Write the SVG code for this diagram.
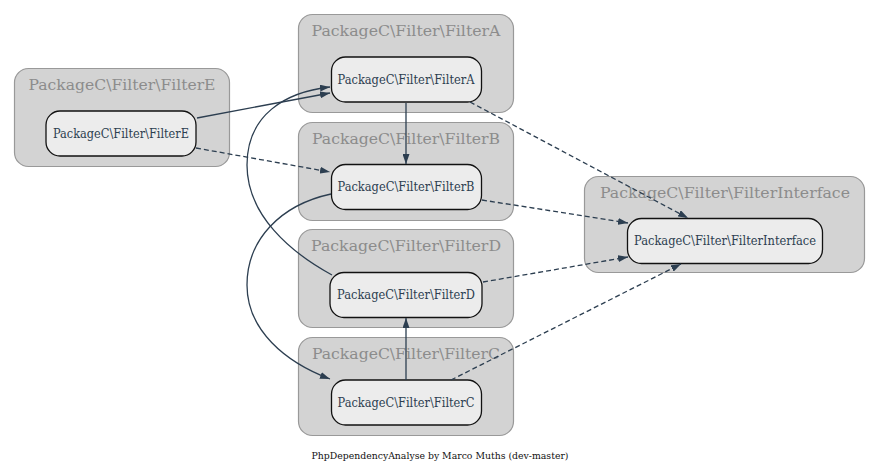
<svg xmlns="http://www.w3.org/2000/svg" width="880" height="473" viewBox="0 0 880 473">
  <style>
    .cluster rect { fill: #d3d3d3; stroke: #999999; stroke-width: 1.2; }
    .cluster text { font-family: "DejaVu Serif", "Liberation Serif", serif; font-size: 15.5px; fill: #8c8c8c; text-anchor: middle; }
    .node rect { fill: #ececec; stroke: #111111; stroke-width: 1.3; }
    .node text { font-family: "DejaVu Serif", "Liberation Serif", serif; font-size: 12.3px; fill: #2c3e50; text-anchor: middle; }
    .edge { fill: none; stroke: #2c3e50; stroke-width: 1.3; }
    .dashed { stroke-dasharray: 5 3; }
    .footer { font-family: "DejaVu Serif", "Liberation Serif", serif; font-size: 10px; fill: #111111; text-anchor: middle; }
  </style>
  <defs>
    <marker id="arrow" markerUnits="userSpaceOnUse" markerWidth="10" markerHeight="7" refX="10" refY="3.5" orient="auto">
      <path d="M0,0 L10,3.5 L0,7 z" fill="#2c3e50" stroke="none"/>
    </marker>
  </defs>

  <rect width="880" height="473" fill="#ffffff"/>

  <!-- package clusters -->
  <g id="cluster-filterE" class="cluster">
    <rect x="14.5" y="68.5" width="215" height="98" rx="14"/>
    <text x="122" y="90" textLength="187" lengthAdjust="spacingAndGlyphs">PackageC\Filter\FilterE</text>
  </g>
  <g id="cluster-filterA" class="cluster">
    <rect x="298.5" y="14.5" width="215" height="98" rx="14"/>
    <text x="406" y="36" textLength="189" lengthAdjust="spacingAndGlyphs">PackageC\Filter\FilterA</text>
  </g>
  <g id="cluster-filterB" class="cluster">
    <rect x="298.5" y="122.5" width="215" height="98" rx="14"/>
    <text x="406" y="144" textLength="188" lengthAdjust="spacingAndGlyphs">PackageC\Filter\FilterB</text>
  </g>
  <g id="cluster-filterD" class="cluster">
    <rect x="298.5" y="229.5" width="215" height="98" rx="14"/>
    <text x="406" y="251" textLength="190" lengthAdjust="spacingAndGlyphs">PackageC\Filter\FilterD</text>
  </g>
  <g id="cluster-filterC" class="cluster">
    <rect x="298.5" y="337.5" width="215" height="98" rx="14"/>
    <text x="406" y="359" textLength="188" lengthAdjust="spacingAndGlyphs">PackageC\Filter\FilterC</text>
  </g>
  <g id="cluster-filterInterface" class="cluster">
    <rect x="584.5" y="176.5" width="280" height="96" rx="14"/>
    <text x="725" y="198" textLength="250" lengthAdjust="spacingAndGlyphs">PackageC\Filter\FilterInterface</text>
  </g>

  <!-- class nodes -->
  <g id="node-filterE" class="node">
    <rect x="46" y="111" width="150" height="45" rx="14"/>
    <text x="121" y="137.5" textLength="136" lengthAdjust="spacingAndGlyphs">PackageC\Filter\FilterE</text>
  </g>
  <g id="node-filterA" class="node">
    <rect x="331.5" y="57" width="150" height="45" rx="14"/>
    <text x="406" y="83.5" textLength="137" lengthAdjust="spacingAndGlyphs">PackageC\Filter\FilterA</text>
  </g>
  <g id="node-filterB" class="node">
    <rect x="331.5" y="164.5" width="150" height="45" rx="14"/>
    <text x="406" y="191" textLength="137" lengthAdjust="spacingAndGlyphs">PackageC\Filter\FilterB</text>
  </g>
  <g id="node-filterD" class="node">
    <rect x="330" y="272.5" width="152" height="45" rx="14"/>
    <text x="406" y="299" textLength="138" lengthAdjust="spacingAndGlyphs">PackageC\Filter\FilterD</text>
  </g>
  <g id="node-filterC" class="node">
    <rect x="331.5" y="380" width="150" height="45" rx="14"/>
    <text x="406" y="406.5" textLength="137" lengthAdjust="spacingAndGlyphs">PackageC\Filter\FilterC</text>
  </g>
  <g id="node-filterInterface" class="node">
    <rect x="627.5" y="218.5" width="195" height="45" rx="14"/>
    <text x="725" y="245" textLength="182" lengthAdjust="spacingAndGlyphs">PackageC\Filter\FilterInterface</text>
  </g>

  <!-- dependencies -->
  <g id="edges">
    <path class="edge" d="M197,118 L330,93" marker-end="url(#arrow)"/>
    <path class="edge dashed" d="M196,148 L330,172" marker-end="url(#arrow)"/>
    <path class="edge" d="M406,103 L406,164" marker-end="url(#arrow)"/>
    <path class="edge dashed" d="M470,102 L688,218" marker-end="url(#arrow)"/>
    <path class="edge dashed" d="M482,200 L628,223" marker-end="url(#arrow)"/>
    <path class="edge" d="M332,275 C290,252 247,215 247,165 C247,115 285,92 330,87" marker-end="url(#arrow)"/>
    <path class="edge" d="M331,194 C280,205 247,240 247,285 C247,330 285,362 330,379" marker-end="url(#arrow)"/>
    <path class="edge" d="M406,380 L406,318" marker-end="url(#arrow)"/>
    <path class="edge dashed" d="M483,282 L628,257" marker-end="url(#arrow)"/>
    <path class="edge dashed" d="M451,380 L681,264" marker-end="url(#arrow)"/>
  </g>

  <text class="footer" x="440" y="459" textLength="257" lengthAdjust="spacingAndGlyphs">PhpDependencyAnalyse by Marco Muths (dev-master)</text>
</svg>
